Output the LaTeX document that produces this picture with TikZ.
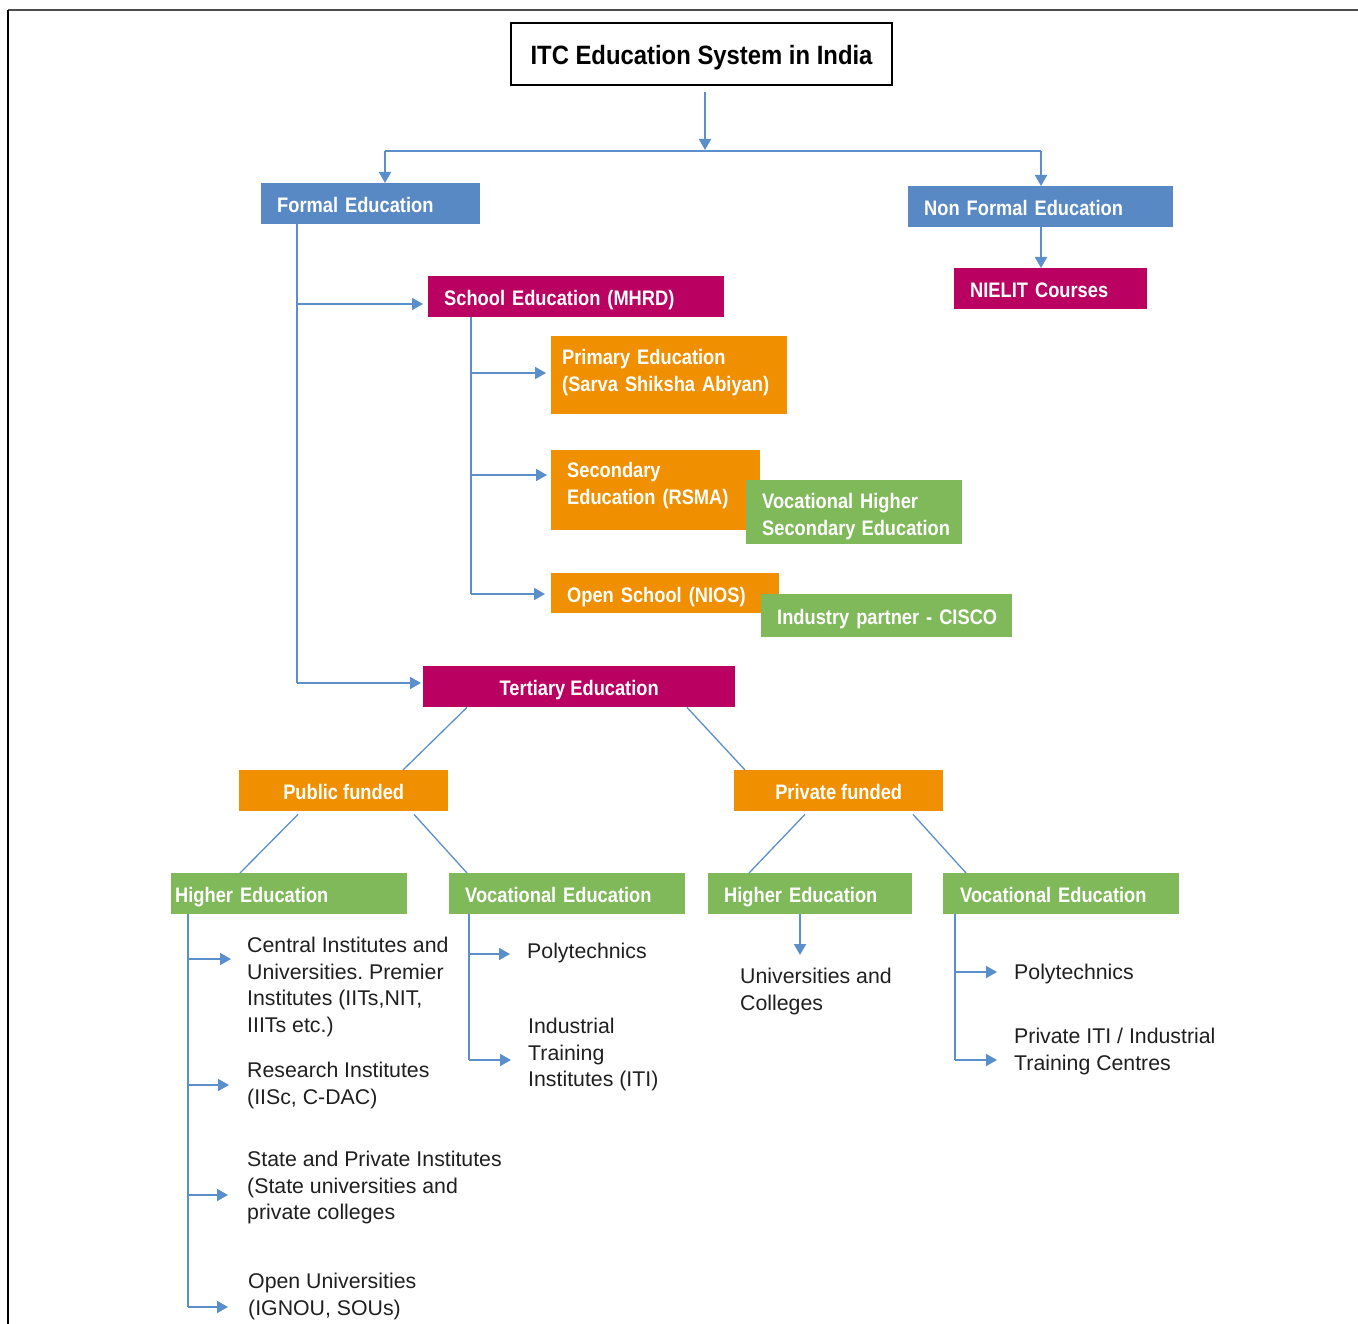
\documentclass[tikz,border=0pt]{standalone}
\usepackage{fontspec}
\setmainfont{Liberation Sans}
\newfontfamily\boxfont[FakeStretch=0.87]{Liberation Sans}
\newfontfamily\titlefont[FakeStretch=0.9]{Liberation Sans}
\usetikzlibrary{arrows.meta}
\definecolor{cblue}{RGB}{88,137,197}
\definecolor{cmag}{RGB}{186,0,96}
\definecolor{corange}{RGB}{240,143,0}
\definecolor{cgreen}{RGB}{128,185,90}
\definecolor{cline}{RGB}{91,143,204}
\frenchspacing
\begin{document}
\begin{tikzpicture}[x=1pt,y=-1pt,
  box/.style={anchor=north west, inner ysep=0pt, text=white, align=left,
    font=\boxfont\bfseries\fontsize{21}{27}\selectfont},
  one/.style={text height=18pt, text depth=0pt},
  cbox/.style={anchor=north west, inner sep=0pt, text=white, align=center,
    text height=18pt, text depth=0pt,
    font=\boxfont\bfseries\fontsize{21}{27}\selectfont},
  titlebox/.style={draw=black, line width=2.5pt, fill=white, inner sep=0pt,
    text height=22pt, text depth=0pt,
    font=\titlefont\bfseries\fontsize{26.5}{30}\selectfont},
  tx/.style={anchor=north west, inner sep=0pt, align=left, text=black!88,
    font=\fontsize{21.3}{26.5}\selectfont},
  conn/.style={draw=cline, line width=1.8pt},
  thinconn/.style={draw=cline, line width=1.3pt},
  arr/.style={conn, -{Triangle[length=11pt,width=12pt]}},
]
\useasboundingbox (0,0) rectangle (1358,1324);
% frame
\draw[black!70, line width=2.5pt] (8,10) -- (1358,10);
\draw[black, line width=1.2pt] (8,10) -- (8,1324);

% title
\node[titlebox, minimum width=381pt, minimum height=62pt] (title) at (701.5,54) {ITC Education System in India};

% level 1 boxes
\node[box, one, fill=cblue, inner xsep=16pt, text width=187pt, minimum height=41pt] (formal) at (261,183) {\mbox{Formal Education}};
\node[box, one, fill=cblue, inner xsep=16pt, text width=233pt, minimum height=41pt] (nonformal) at (908,186) {\mbox{Non Formal Education}};
\node[box, one, fill=cmag, inner xsep=16pt, text width=161pt, minimum height=41pt] (nielit) at (954,268) {\mbox{NIELIT Courses}};

% school
\node[box, one, fill=cmag, inner xsep=16pt, text width=264pt, minimum height=41pt] (school) at (428,276) {\mbox{School Education (MHRD)}};
\node[box, fill=corange, inner xsep=11pt, text width=214pt, minimum height=78pt] (primary) at (551,336)
  {\raisebox{0pt}[\height][\dimexpr\depth+5pt\relax]{\begin{tabular}{@{}l@{}}Primary Education\\(Sarva Shiksha Abiyan)\end{tabular}}};
\node[box, fill=corange, inner xsep=16pt, text width=177pt, minimum height=80pt] (secondary) at (551,450)
  {\raisebox{0pt}[\height][\dimexpr\depth+9pt\relax]{\begin{tabular}{@{}l@{}}Secondary\\Education (RSMA)\end{tabular}}};
\node[box, fill=cgreen, inner xsep=16pt, text width=184pt, minimum height=64pt] (vhse) at (746,480)
  {\raisebox{0pt}[\dimexpr\height+9pt\relax][\depth]{\begin{tabular}{@{}l@{}}Vocational Higher\\Secondary\hspace{6pt}Education\end{tabular}}};
\node[box, one, fill=corange, inner xsep=16pt, text width=196pt, minimum height=40pt] (opens) at (551,573) {\mbox{Open School (NIOS)}};
\node[box, one, fill=cgreen, inner xsep=16pt, text width=219pt, minimum height=43pt] (cisco) at (761,594) {\mbox{Industry partner - CISCO}};

% tertiary
\node[cbox, fill=cmag, minimum width=312pt, minimum height=41pt] (tertiary) at (423,666) {Tertiary Education};
\node[cbox, fill=corange, minimum width=209pt, minimum height=41pt] (public) at (239,770) {Public funded};
\node[cbox, fill=corange, minimum width=209pt, minimum height=41pt] (private) at (734,770) {Private funded};

\node[box, one, fill=cgreen, inner xsep=4pt, text width=228pt, minimum height=41pt] (heL) at (171,873) {\mbox{Higher Education}};
\node[box, one, fill=cgreen, inner xsep=16pt, text width=204pt, minimum height=41pt] (veL) at (449,873) {\mbox{Vocational Education}};
\node[box, one, fill=cgreen, inner xsep=16pt, text width=172pt, minimum height=41pt] (heR) at (708,873) {\mbox{Higher Education}};
\node[box, one, fill=cgreen, inner xsep=17pt, text width=202pt, minimum height=41pt] (veR) at (943,873) {\mbox{Vocational Education}};

% leaf texts
\node[tx] (c1) at (247,937) {Central Institutes and\\Universities. Premier\\Institutes (IITs,NIT,\\IIITs etc.)};
\node[tx] (c2) at (247,1062) {Research Institutes\\(IISc, C-DAC)};
\node[tx] (c3) at (247,1151) {State and Private Institutes\\(State universities and\\private colleges};
\node[tx] (c4) at (248,1273) {Open Universities\\(IGNOU, SOUs)};
\node[tx] (v1) at (527,943) {Polytechnics};
\node[tx] (v2) at (528,1018) {Industrial\\Training\\Institutes (ITI)};
\node[tx] (u1) at (740,968) {Universities and\\Colleges};
\node[tx] (p1) at (1014,964) {Polytechnics};
\node[tx] (p2) at (1014,1028) {Private ITI / Industrial\\Training Centres};

% top connectors
\coordinate (t0) at (705,92);
\coordinate (split) at (705,150);
\coordinate (hl) at (385,151);
\coordinate (hr) at (1041,151);
\draw[arr] (t0) -- (split);
\draw[conn] (hl) -- (hr);
\draw[arr] (hl) -- (hl |- formal.north);
\draw[arr] (hr) -- (hr |- nonformal.north);
\draw[arr] (nonformal.south -| hr) -- (nielit.north -| hr);

% formal trunk
\coordinate (fS) at (297,304);
\coordinate (fB) at (297,683);
\draw[conn] (formal.south -| fB) -- (fB);
\draw[arr, shorten >=5pt] (fS) -- (fS -| school.west);
\draw[arr, shorten >=2pt] (fB) -- (fB -| tertiary.west);

% school trunk
\coordinate (sP) at (471,373);
\coordinate (sS) at (471,475);
\coordinate (sB) at (471,594);
\draw[conn] (school.south -| sB) -- (sB);
\draw[arr, shorten >=5pt] (sP) -- (sP -| primary.west);
\draw[arr, shorten >=4pt] (sS) -- (sS -| secondary.west);
\draw[arr, shorten >=6pt] (sB) -- (sB -| opens.west);

% tertiary tree
\draw[thinconn] ([xshift=44pt]tertiary.south west) -- ([xshift=164pt]public.north west);
\draw[thinconn] ([xshift=264pt]tertiary.south west) -- ([xshift=11pt]private.north west);
\draw[thinconn] ([xshift=59pt,yshift=-3pt]public.south west) -- ([xshift=69pt]heL.north west);
\draw[thinconn] ([xshift=175pt,yshift=-3pt]public.south west) -- ([xshift=18pt]veL.north west);
\draw[thinconn] ([xshift=71pt,yshift=-3pt]private.south west) -- ([xshift=41pt]heR.north west);
\draw[thinconn] ([xshift=179pt,yshift=-3pt]private.south west) -- ([xshift=23pt]veR.north west);

% left higher education trunk
\coordinate (h1) at (188,959);
\coordinate (h2) at (188,1085);
\coordinate (h3) at (188,1195);
\coordinate (h4) at (188,1307);
\draw[conn] (heL.south -| h4) -- (h4);
\draw[arr, shorten >=16pt] (h1) -- (h1 -| c1.west);
\draw[arr, shorten >=18pt] (h2) -- (h2 -| c2.west);
\draw[arr, shorten >=19pt] (h3) -- (h3 -| c3.west);
\draw[arr, shorten >=20pt] (h4) -- (h4 -| c4.west);

% left vocational trunk
\coordinate (w1) at (469,954);
\coordinate (w2) at (469,1060);
\draw[conn] (veL.south -| w2) -- (w2);
\draw[arr, shorten >=17pt] (w1) -- (w1 -| v1.west);
\draw[arr, shorten >=17pt] (w2) -- (w2 -| v2.west);

% right higher education
\coordinate (r0) at (800,955);
\draw[arr] (heR.south -| r0) -- (r0);

% right vocational trunk
\coordinate (q1) at (955,972);
\coordinate (q2) at (955,1060);
\draw[conn] (veR.south -| q2) -- (q2);
\draw[arr, shorten >=17pt] (q1) -- (q1 -| p1.west);
\draw[arr, shorten >=17pt] (q2) -- (q2 -| p2.west);
\end{tikzpicture}
\end{document}
